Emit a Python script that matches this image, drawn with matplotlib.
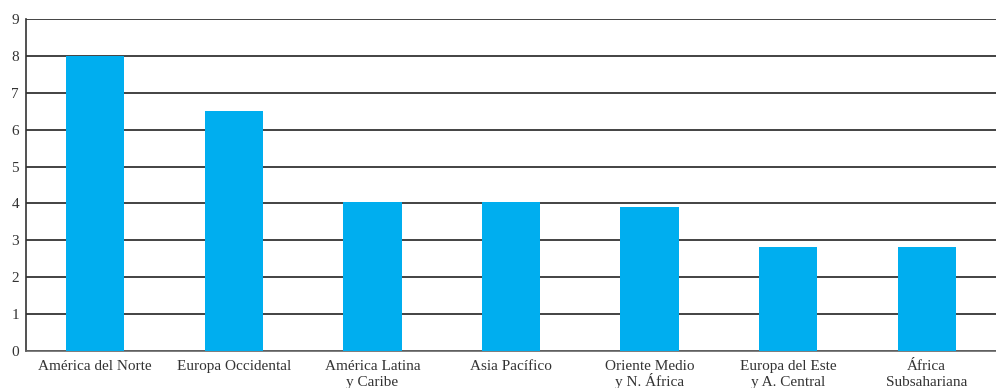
import matplotlib.pyplot as plt

regions_line1 = ["América del Norte", "Europa Occidental", "América Latina",
                 "Asia Pacífico", "Oriente Medio", "Europa del Este", "África"]
regions_line2 = ["", "", "y Caribe", "", "y N. África", "y A. Central", "Subsahariana"]
values = [8.0, 6.5, 4.05, 4.05, 3.9, 2.82, 2.82]
yticks = list(range(0, 10))

plt.rcParams["font.family"] = ["Liberation Serif", "DejaVu Serif"]

fig = plt.figure(figsize=(9.96, 3.88), dpi=100)
ax = fig.add_axes([0.0261, 0.0954, 0.9739, 0.8557])

x = range(len(values))
ax.bar(x, values, width=0.42, color="#00AEEF", zorder=3)
ax.set_xlim(-0.5, len(values) - 0.5)
ax.set_ylim(0, 9)
ax.set_yticks(yticks)
ax.set_xticks([])
ax.tick_params(axis="y", length=0, labelsize=11, labelcolor="#333333", pad=5)
ax.yaxis.grid(True, color="#222222", linewidth=1.2, zorder=1)

# two-line category labels on fixed baselines so accents don't shift them
tr = ax.get_xaxis_transform()
for i, (l1, l2) in enumerate(zip(regions_line1, regions_line2)):
    ax.text(i, -0.058, l1, transform=tr, ha="center", va="baseline",
            fontsize=11, color="#333333", clip_on=False)
    if l2:
        ax.text(i, -0.106, l2, transform=tr, ha="center", va="baseline",
                fontsize=11, color="#333333", clip_on=False)

for side in ["top", "right"]:
    ax.spines[side].set_visible(False)
ax.spines["left"].set_color("#333333")
ax.spines["bottom"].set_color("#666666")
ax.spines["left"].set_linewidth(1.2)
ax.spines["bottom"].set_linewidth(1.2)

fig.savefig("out.png", dpi=100)
